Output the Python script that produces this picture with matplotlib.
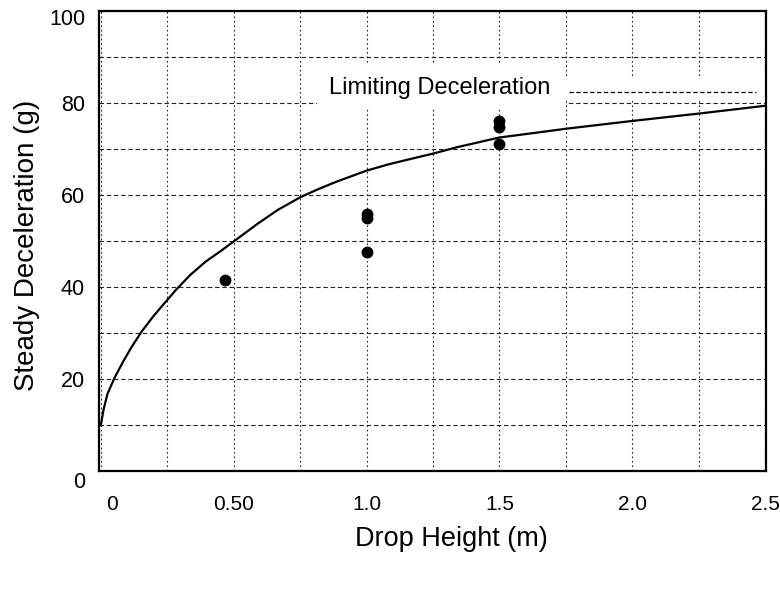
import matplotlib.pyplot as plt
import matplotlib.transforms as mtransforms
from matplotlib.patches import Rectangle

plt.rcParams['font.family'] = ['Liberation Sans', 'DejaVu Sans']

# model curve: steady deceleration vs drop height
curve_h = [0.0, 0.01, 0.025, 0.051, 0.083, 0.114, 0.152, 0.197, 0.25, 0.283,
           0.336, 0.394, 0.453, 0.5, 0.591, 0.667, 0.75, 0.815, 0.887, 1.0,
           1.085, 1.163, 1.25, 1.341, 1.5, 1.593, 1.75, 2.0, 2.25, 2.5]
curve_g = [10.0, 13.3, 16.8, 20.2, 23.7, 26.8, 30.2, 33.6, 37.2, 39.4,
           42.6, 45.5, 47.9, 49.9, 53.8, 56.8, 59.5, 61.2, 62.9, 65.3,
           66.7, 67.8, 69.0, 70.4, 72.5, 73.2, 74.4, 76.1, 77.7, 79.4]

# measured drops
test_h = [0.468, 1.0, 1.0, 1.0, 1.5, 1.5, 1.5]
test_g = [41.5, 55.9, 55.0, 47.7, 76.0, 74.7, 71.0]

# limiting deceleration
limit_g = 82.3
limit_h = [1.76, 2.465]

xticks = [0, 0.5, 1.0, 1.5, 2.0, 2.5]
xticklabels = ["0", "0.50", "1.0", "1.5", "2.0", "2.5"]
xminor = [0.25, 0.75, 1.25, 1.75, 2.25]
yticks = [0, 20, 40, 60, 80, 100]
yminor = [10, 30, 50, 70, 90]

fig = plt.figure(figsize=(7.8, 5.91), dpi=100)
ax = fig.add_axes([99 / 780, 1 - 471 / 591, 667 / 780, 460 / 591])

ax.set_xlim(-0.007, 2.503)
ax.set_ylim(0, 100)
ax.set_xticks(xticks)
ax.set_xticklabels(xticklabels)
ax.set_xticks(xminor, minor=True)
ax.set_yticks(yticks)
ax.set_yticks(yminor, minor=True)
ax.tick_params(which='both', length=0)
ax.tick_params(axis='x', labelsize=15, pad=17)
ax.tick_params(axis='y', labelsize=15.5, pad=10)

ax.grid(axis='y', which='both', color='#222222', lw=0.8, ls=(0, (4, 2.5)))
ax.grid(axis='x', which='both', color='#222222', lw=0.8, ls=(0, (1.5, 2.5)))
ax.set_axisbelow(True)

for sp in ax.spines.values():
    sp.set_linewidth(1.6)

# white areas behind the labels, covering the grid
ax.add_patch(Rectangle((0.813, 78.8), 0.937, 9.8, facecolor='white',
                       edgecolor='none', zorder=1.5))
ax.add_patch(Rectangle((1.75, 80.5), 0.76, 5.1, facecolor='white',
                       edgecolor='none', zorder=1.5))

ax.plot(curve_h, curve_g, color='black', lw=1.6, zorder=3)
ax.plot(test_h, test_g, 'o', color='black', ms=7.5, zorder=4)
ax.plot(limit_h, [limit_g, limit_g], color='black', lw=0.9,
        ls=(0, (3.5, 2)), zorder=3)
ax.text(0.86, 83.2, "Limiting Deceleration", fontsize=17, va='center',
        ha='left', zorder=4)

ax.set_xlabel("Drop Height (m)", fontsize=19.5)
ax.xaxis.set_label_coords(0.529, -0.12)
ax.set_ylabel("Steady Deceleration (g)", fontsize=20)
ax.yaxis.set_label_coords(-0.088, 0.49)

# small offsets of a few tick labels, as on the original sheet
def nudge(lbl, dx, dy):
    lbl.set_transform(lbl.get_transform() +
                      mtransforms.ScaledTranslation(dx / 100, dy / 100, fig.dpi_scale_trans))

nudge(ax.xaxis.get_major_ticks()[0].label1, 11, 0)
nudge(ax.yaxis.get_major_ticks()[0].label1, 0, -9)
nudge(ax.yaxis.get_major_ticks()[-1].label1, 0, -6)

fig.savefig("out.png", dpi=100)
